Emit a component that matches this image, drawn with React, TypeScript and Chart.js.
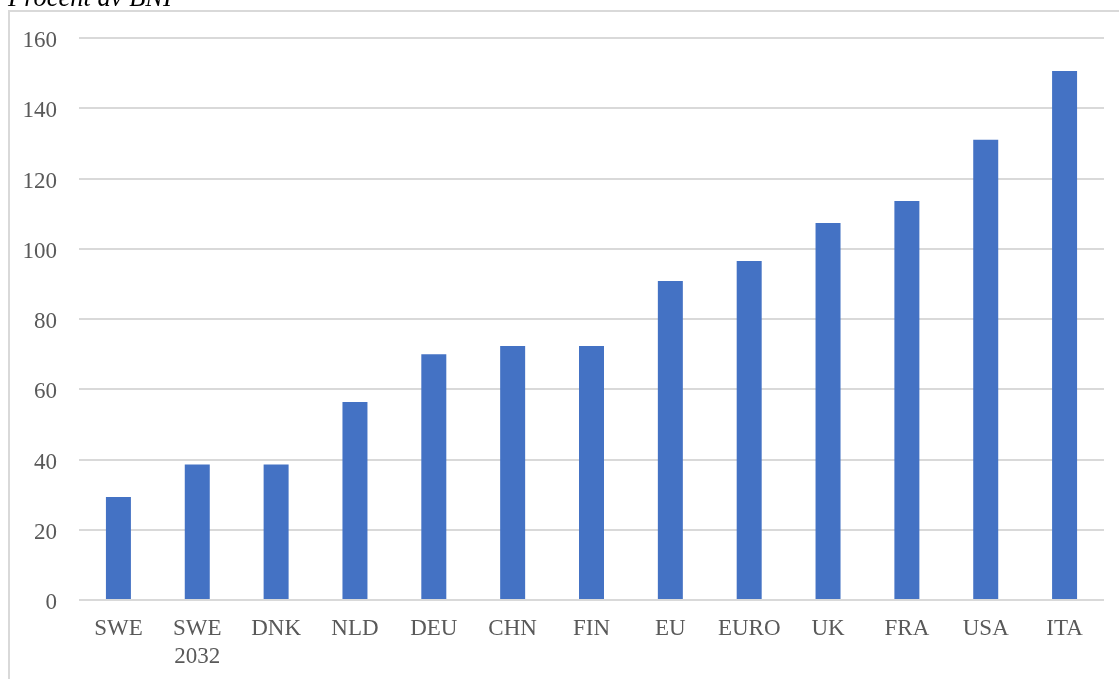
import React, { useEffect, useRef } from "react";
import { Chart, registerables } from "chart.js";

Chart.register(...registerables);

const categories: (string | string[])[] = [
  "SWE",
  ["SWE", "2032"],
  "DNK",
  "NLD",
  "DEU",
  "CHN",
  "FIN",
  "EU",
  "EURO",
  "UK",
  "FRA",
  "USA",
  "ITA",
];
const debtValues = [29.3, 38.6, 38.6, 56.4, 70.0, 72.3, 72.3, 90.8, 96.5, 107.3, 113.6, 131.0, 150.6];
const yMin = 0;
const yMax = 160;
const yStep = 20;
const titleText = "Procent av BNI";

const FONT = "'Liberation Serif', 'Times New Roman', serif";

export default function App() {
  const ref = useRef<HTMLCanvasElement | null>(null);

  useEffect(() => {
    if (!ref.current) return;
    const chart = new Chart(ref.current, {
      type: "bar",
      data: {
        labels: categories,
        datasets: [
          {
            data: debtValues,
            backgroundColor: "#4472C4",
            borderWidth: 0,
            categoryPercentage: 1,
            barPercentage: 0.317,
          },
        ],
      },
      options: {
        animation: false,
        responsive: false,
        devicePixelRatio: 1,
        layout: { padding: { left: 0, right: 15, top: 38, bottom: 0 } },
        plugins: {
          legend: { display: false },
          title: { display: false },
          tooltip: { enabled: false },
        },
        scales: {
          x: {
            grid: { display: false, drawTicks: false },
            border: { display: false },
            ticks: {
              color: "#595959",
              font: { family: FONT, size: 23, lineHeight: 1.22 },
              padding: 15,
              maxRotation: 0,
              autoSkip: false,
            },
            afterFit: (scale: any) => {
              scale.height = 79;
            },
          },
          y: {
            min: yMin,
            max: yMax,
            grid: { color: "#d9d9d9", lineWidth: 2, drawTicks: false },
            border: { display: false },
            ticks: {
              stepSize: yStep,
              color: "#595959",
              font: { family: FONT, size: 23 },
              padding: 22,
              labelOffset: 3,
            },
            afterFit: (scale: any) => {
              scale.width = 79;
            },
          },
        },
      },
    });
    return () => chart.destroy();
  }, []);

  return (
    <div
      style={{
        position: "fixed",
        left: 0,
        top: 0,
        width: 1119,
        height: 679,
        overflow: "hidden",
        background: "#ffffff",
      }}
    >
      <div
        style={{
          position: "absolute",
          left: 8,
          top: 10,
          width: 1300,
          height: 900,
          border: "2px solid #d9d9d9",
        }}
      />
      <canvas
        ref={ref}
        width={1119}
        height={679}
        style={{ position: "absolute", left: 0, top: 0, width: 1119, height: 679 }}
      />
      <div
        style={{
          position: "absolute",
          left: 8,
          top: -16,
          fontFamily: FONT,
          fontStyle: "italic",
          fontSize: 26.5,
          lineHeight: "26px",
          color: "#000000",
          whiteSpace: "nowrap",
        }}
      >
        {titleText}
      </div>
    </div>
  );
}
